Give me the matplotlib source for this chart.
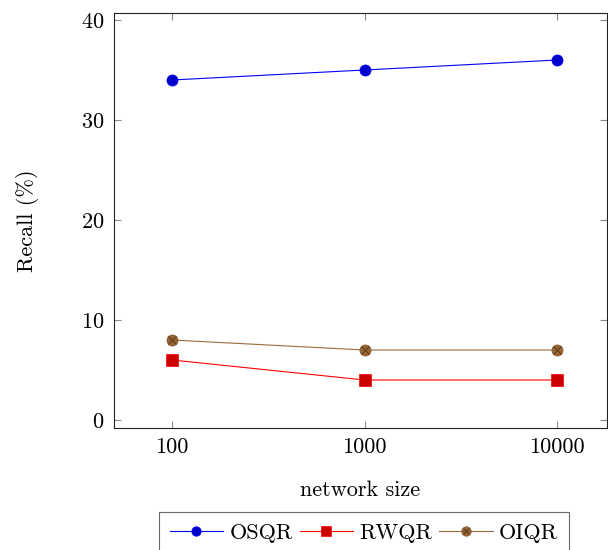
import matplotlib
matplotlib.use("Agg")
import matplotlib.pyplot as plt
from matplotlib.legend_handler import HandlerTuple

plt.rcParams['font.family'] = 'cmr10'
plt.rcParams['axes.formatter.use_mathtext'] = True

network_size = [100, 1000, 10000]
osqr = [34, 35, 36]
rwqr = [6, 4, 4]
oiqr = [8, 7, 7]

W, H = 608, 550
fs = 16
fig = plt.figure(figsize=(W / 100, H / 100), dpi=100)
ax = fig.add_axes([114 / W, (H - 428) / H, (607 - 114) / W, (428 - 12.7) / H])

l1, = ax.plot(network_size, osqr, color=(0, 0, 1), lw=0.8, marker='o', ms=8,
              mfc=(0, 0, 0.8), mec=(0, 0, 1), mew=0.5, label='OSQR')
l2, = ax.plot(network_size, rwqr, color=(1, 0, 0), lw=0.8, marker='s', ms=8,
              mfc=(0.8, 0, 0), mec=(1, 0, 0), mew=0.5, label='RWQR')
l3, = ax.plot(network_size, oiqr, color=(0.6, 0.42, 0.25), lw=0.8, marker='o', ms=8,
              mfc=(0.6, 0.4, 0.2), mec=(0.5, 0.33, 0.17), mew=0.5)
l3x, = ax.plot(network_size, oiqr, ls='none', marker='x', ms=5.5,
               mec=(0.3, 0.2, 0.1), mew=0.6)

ax.set_xscale('log')
dec = 192.5
ax.set_xlim(10 ** (2 - 58 / dec), 10 ** (4 + 50 / dec))
ax.set_ylim(-0.8, 40.73)
ax.set_xticks(network_size)
ax.set_xticklabels([str(v) for v in network_size])
ax.minorticks_off()
ax.set_yticks([0, 10, 20, 30, 40])

for s in ax.spines.values():
    s.set_color('#222222')
    s.set_linewidth(0.8)
ax.tick_params(direction='in', length=5, width=0.8, color='#888888',
               top=True, right=True, labelsize=fs, pad=7)

ax.set_xlabel('network size', fontsize=fs, labelpad=17)
ax.set_ylabel('Recall (%)', fontsize=fs, labelpad=30)

leg = fig.legend([l1, l2, (l3, l3x)], ['OSQR', 'RWQR', 'OIQR'],
                 handler_map={tuple: HandlerTuple(ndivide=1)},
                 loc='upper center', bbox_to_anchor=(364 / W, (H - 512) / H),
                 borderaxespad=0, ncol=3, fontsize=fs, frameon=True, fancybox=False,
                 handlelength=2.4, handletextpad=0.3, columnspacing=0.3,
                 borderpad=0.5, markerscale=0.85)
leg.get_frame().set_edgecolor('#444444')
leg.get_frame().set_linewidth(0.8)

fig.savefig('out.png', dpi=100)
